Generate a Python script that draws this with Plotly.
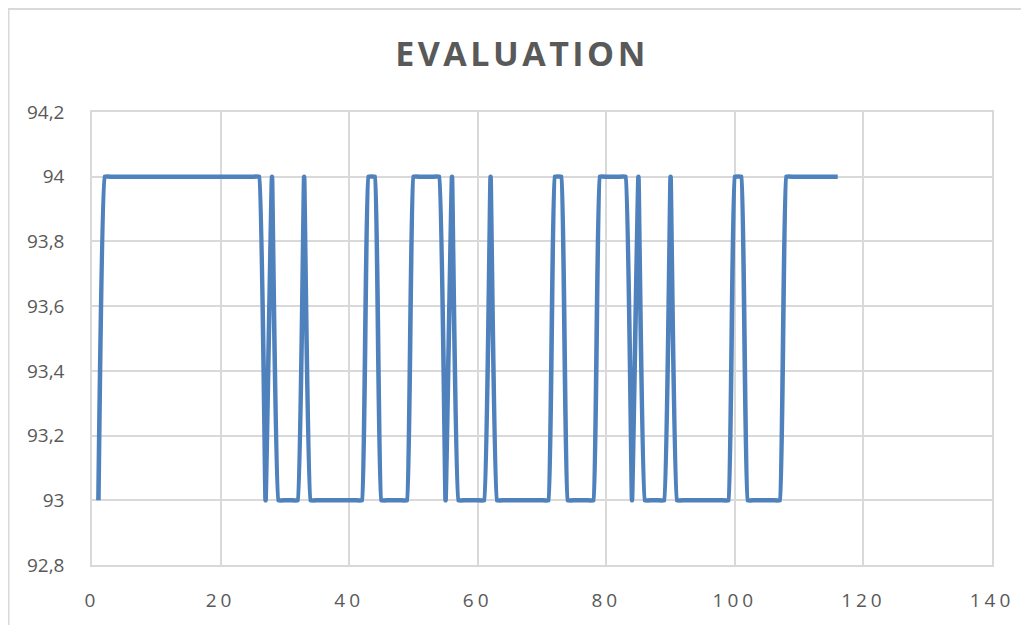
import plotly.graph_objects as go

x_values = list(range(1, 117))
y_values = (
    [93]
    + [94] * 25      # 2-26
    + [93]           # 27
    + [94]           # 28
    + [93] * 4       # 29-32
    + [94]           # 33
    + [93] * 9       # 34-42
    + [94] * 2       # 43-44
    + [93] * 5       # 45-49
    + [94] * 5       # 50-54
    + [93]           # 55
    + [94]           # 56
    + [93] * 5       # 57-61
    + [94]           # 62
    + [93] * 9       # 63-71
    + [94] * 2       # 72-73
    + [93] * 5       # 74-78
    + [94] * 5       # 79-83
    + [93]           # 84
    + [94]           # 85
    + [93] * 4       # 86-89
    + [94]           # 90
    + [93] * 9       # 91-99
    + [94] * 2       # 100-101
    + [93] * 6       # 102-107
    + [94] * 9       # 108-116
)

title_text = "EVALUATION"
x_ticks = [0, 20, 40, 60, 80, 100, 120, 140]
x_tick_labels = ["0", "20", "40", "60", "80", "100", "120", "140"]
y_ticks = [92.8, 93.0, 93.2, 93.4, 93.6, 93.8, 94.0, 94.2]
y_tick_labels = ["92,8", "93", "93,2", "93,4", "93,6", "93,8", "94", "94,2"]

W, H = 1021, 617
L, R, T, B = 84, 37, 104, 58
pw, ph = W - L - R, H - T - B

def fx(px):
    return (px - L) / pw

def fy(py):
    return (H - B - py) / ph

fig = go.Figure()
fig.add_trace(go.Scatter(
    x=x_values, y=y_values, mode="lines",
    line=dict(color="#4f81bd", width=4.6, shape="spline", smoothing=0.2),
    showlegend=False, hoverinfo="skip",
))

gray = "#595959"
grid = "#d9d9d9"
font_family = "Open Sans, Liberation Sans, sans-serif"

def spaced(t, px):
    return '<span style="letter-spacing:%.1fpx">%s</span>' % (px, t)

fig.update_layout(
    width=W, height=H,
    margin=dict(l=L, r=R, t=T, b=B),
    paper_bgcolor="white", plot_bgcolor="white",
    title=dict(
        text="<b>" + spaced(title_text, 3.5) + "</b>",
        x=fx(514), xanchor="center", xref="paper",
        y=1 - 46 / H, yanchor="middle",
        font=dict(family=font_family, size=34, color=gray),
    ),
    xaxis=dict(
        range=[0, 140], tickmode="array", tickvals=x_ticks,
        ticktext=[spaced(t, 4) for t in x_tick_labels],
        showgrid=True, gridcolor=grid, gridwidth=1.5,
        showline=True, linecolor=grid, linewidth=1.5, mirror=True,
        zeroline=False, ticks="",
        tickfont=dict(family=font_family, size=19, color=gray), ticklabelstandoff=17,
    ),
    yaxis=dict(
        range=[92.8, 94.2], tickmode="array", tickvals=y_ticks, ticktext=y_tick_labels,
        showgrid=True, gridcolor=grid, gridwidth=1.5,
        showline=True, linecolor=grid, linewidth=1.5, mirror=True,
        zeroline=False, ticks="",
        tickfont=dict(family=font_family, size=19, color=gray), ticklabelstandoff=22,
    ),
    shapes=[
        dict(type="line", xref="paper", yref="paper",
             x0=fx(0.5), x1=fx(0.5), y0=fy(0), y1=fy(H + 5),
             line=dict(color=grid, width=2), layer="below"),
        dict(type="line", xref="paper", yref="paper",
             x0=fx(0), x1=fx(W), y0=fy(0.5), y1=fy(0.5),
             line=dict(color=grid, width=2), layer="below"),
    ],
)

fig.write_html("out.html")
